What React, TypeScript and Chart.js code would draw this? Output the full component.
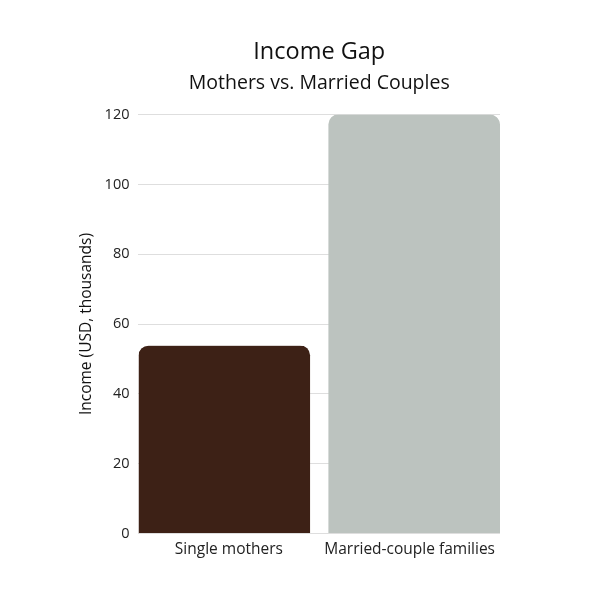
import React, { useEffect, useRef } from "react";
import { Chart, registerables } from "chart.js";

Chart.register(...registerables);

const categories = ["Single mothers", "Married-couple families"];
const incomeValues = [53.8, 120];
const barColors = ["#3d2116", "#bcc3bf"];
const titleText = "Income Gap";
const subtitleText = "Mothers vs. Married Couples";
const yAxisTitle = "Income (USD, thousands)";

const FONT = "'Open Sans', 'Noto Sans', sans-serif";
const GAP = 9.5;
const RADIUS = 10;

export default function App() {
  const ref = useRef<HTMLCanvasElement>(null);
  useEffect(() => {
    if (!ref.current) return;
    const chart = new Chart(ref.current, {
      type: "bar",
      data: {
        labels: categories,
        datasets: [
          {
            data: incomeValues,
            backgroundColor: barColors,
            borderColor: "rgba(0,0,0,0)",
            borderWidth: (ctx: any) =>
              ctx.dataIndex === 0
                ? { left: 0, right: GAP, top: 0, bottom: 0 }
                : { left: GAP, right: 0, top: 0, bottom: 0 },
            borderRadius: (ctx: any) =>
              ctx.dataIndex === 0
                ? { topLeft: RADIUS, topRight: RADIUS + GAP, bottomLeft: 0, bottomRight: 0 }
                : { topLeft: RADIUS + GAP, topRight: RADIUS, bottomLeft: 0, bottomRight: 0 },
            borderSkipped: false,
            barPercentage: 1,
            categoryPercentage: 1,
          },
        ],
      },
      options: {
        animation: false,
        responsive: false,
        maintainAspectRatio: false,
        layout: { padding: { left: 77, right: 100, top: 38, bottom: 34 } },
        plugins: {
          legend: { display: false },
          tooltip: { enabled: false },
          title: {
            display: true,
            text: titleText,
            fullSize: false,
            color: "#111",
            font: { family: FONT, size: 23.5, weight: "normal" },
            padding: { top: 0, bottom: 6 },
          },
          subtitle: {
            display: true,
            text: subtitleText,
            fullSize: false,
            color: "#111",
            font: { family: FONT, size: 19.5, weight: "normal" },
            padding: { top: 0, bottom: 19 },
          },
        },
        scales: {
          x: {
            grid: { display: false, drawTicks: false },
            border: { display: false },
            ticks: { color: "#222", font: { family: FONT, size: 15.5 }, padding: 7 },
          },
          y: {
            min: 0,
            max: 120,
            ticks: { stepSize: 20, color: "#222", font: { family: FONT, size: 14.5 }, padding: 9 },
            grid: { color: "#dedede", drawTicks: false, lineWidth: 1 },
            border: { display: false },
            title: {
              display: true,
              text: yAxisTitle,
              color: "#111",
              font: { family: FONT, size: 15.5 },
              padding: { top: 0, bottom: 0 },
            },
          },
        },
      },
    });
    return () => chart.destroy();
  }, []);
  return (
    <div style={{ position: "fixed", left: 0, top: 0, width: 600, height: 600, background: "#fff" }}>
      <canvas ref={ref} width={600} height={600} style={{ width: 600, height: 600 }} />
    </div>
  );
}
